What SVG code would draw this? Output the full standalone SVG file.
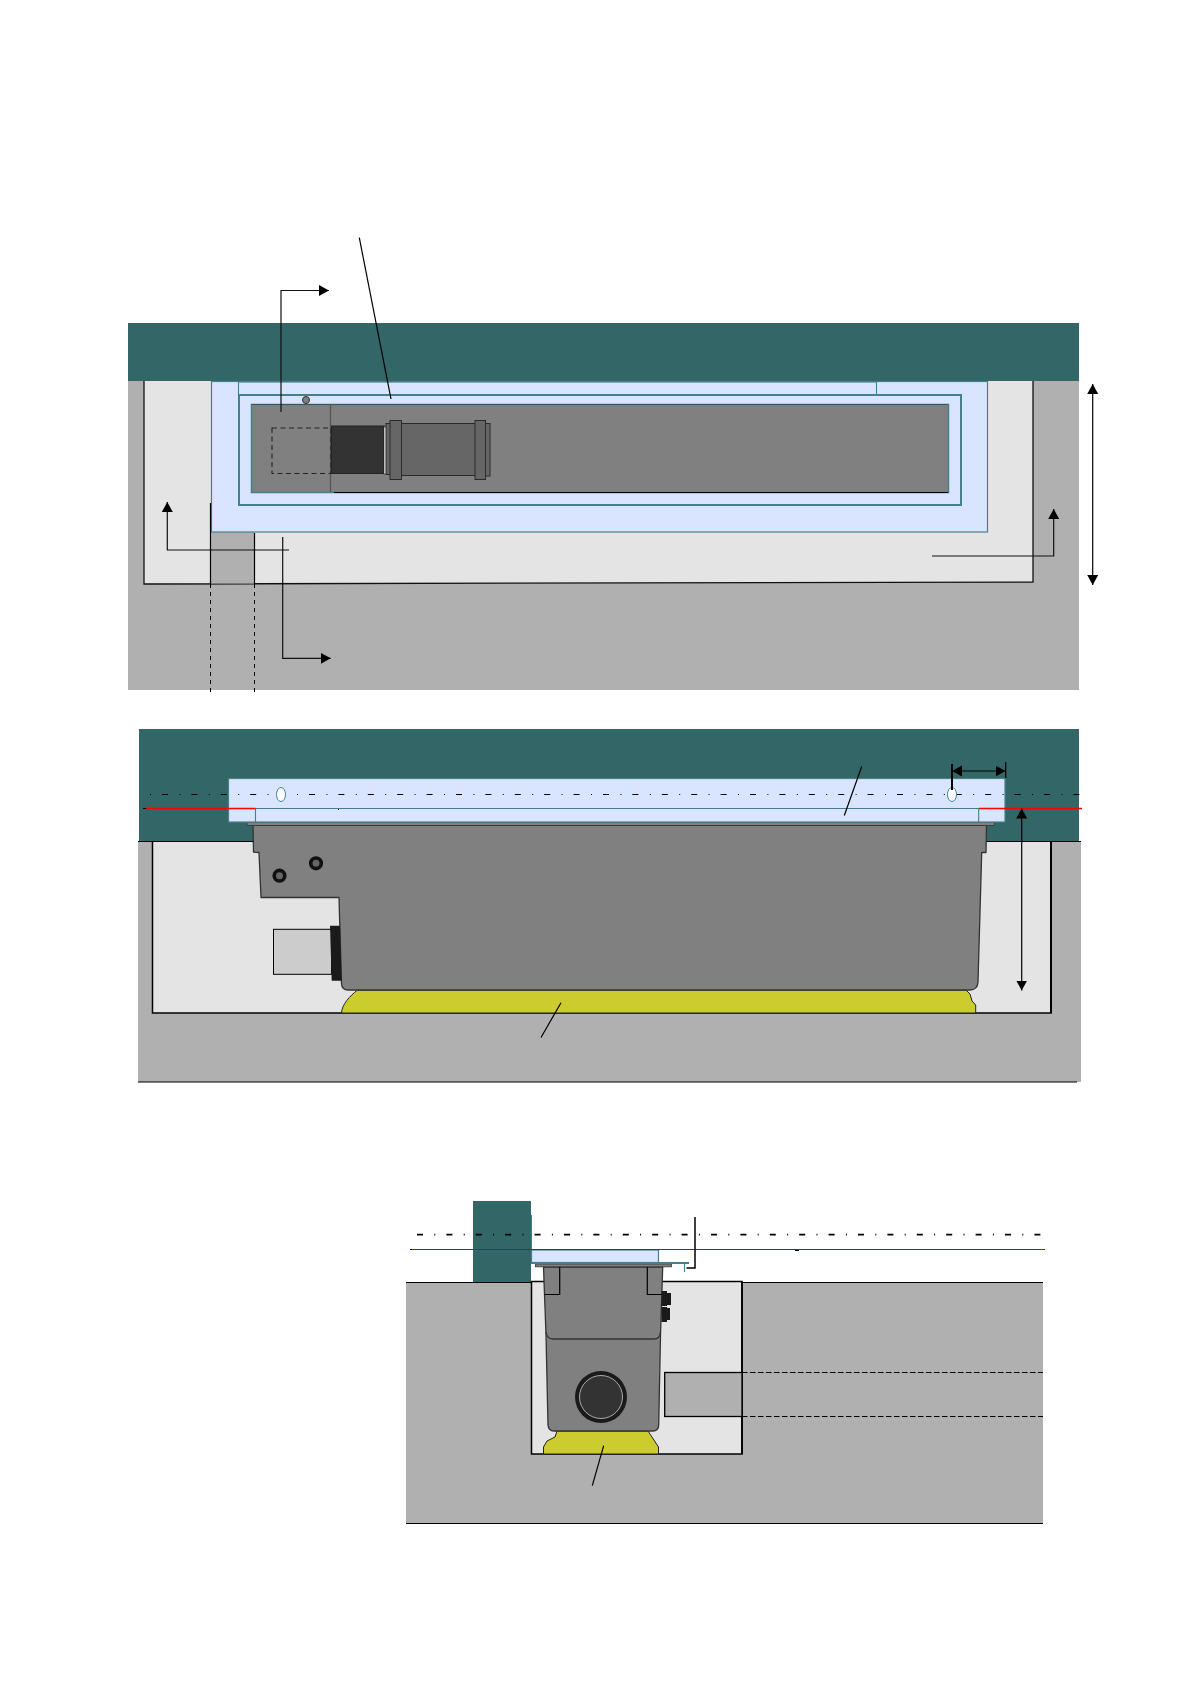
<svg xmlns="http://www.w3.org/2000/svg" width="1192" height="1685" viewBox="0 0 1192 1685">
<style>
.teal{fill:#336666}
.ground{fill:#b0b0b0}
.pit{fill:#e4e4e4;stroke:#000;stroke-width:1.5}
.plate{fill:#d9e4ff;stroke:#468088;stroke-width:1.2}
.tl{fill:none;stroke:#468088;stroke-width:1.1}
.body{fill:#808080;stroke:#333;stroke-width:1.3;stroke-linejoin:round}
.yellow{fill:#cccc2e;stroke:#222;stroke-width:1}
.ln{fill:none;stroke:#000;stroke-width:1.2}
.ln3{fill:none;stroke:#333;stroke-width:1.3}
.ln2{fill:none;stroke:#000;stroke-width:1.5}
.dash{fill:none;stroke:#222;stroke-width:1.1;stroke-dasharray:5 3.500}
.dd{fill:none;stroke:#000;stroke-width:1.1;stroke-dasharray:5.500 2.500}
.dv{fill:none;stroke:#000;stroke-width:1;stroke-dasharray:4 4}
.cl{fill:none;stroke:#000;stroke-width:1.1;stroke-dasharray:1 11 6 11.400}
.cl2{fill:none;stroke:#000;stroke-width:1.800;stroke-dasharray:6 11.300 1 11.100}
.red{fill:none;stroke:#f00;stroke-width:1.300}
.dk{fill:#666;stroke:#2a2a2a;stroke-width:1}
.bk{fill:#1a1a1a}
.bolt{fill:#666;stroke:#111;stroke-width:3.600}
.slot{fill:#fff;stroke:#468088;stroke-width:1}
.arrow{fill:none;stroke:#111;stroke-width:1.2;marker-end:url(#a)}
.arrow2{fill:none;stroke:#000;stroke-width:1.2;marker-start:url(#s);marker-end:url(#a)}
</style>
<defs>
<marker id="a" markerUnits="userSpaceOnUse" markerWidth="11" markerHeight="12" refX="10" refY="6" orient="auto"><path d="M0 0.500L10 6L0 11.500Z" fill="#000"/></marker>
<marker id="s" markerUnits="userSpaceOnUse" markerWidth="11" markerHeight="12" refX="0" refY="6" orient="auto"><path d="M10 0.500L0 6L10 11.500Z" fill="#000"/></marker>
</defs>
<rect width="1192" height="1685" fill="#fff"/>

<g id="plan-view">
<rect class="teal" x="128" y="323" width="951" height="58"/>
<rect class="ground" x="128" y="381" width="951" height="309"/>
<path d="M144 381V584L1033 582V381Z" fill="#e4e4e4"/>
<path d="M144 381V584L1033 582V381" fill="none" stroke="#111" stroke-width="1.300"/>
<rect class="ground" x="211" y="532" width="43.500" height="51.500"/>
<rect class="plate" x="211.500" y="381.500" width="776" height="150.500"/>
<rect class="tl" x="238.500" y="382" width="638" height="13"/>
<rect x="239" y="395" width="722" height="110" fill="#d9e4ff" stroke="#468088" stroke-width="2"/>
<rect x="251.500" y="404.500" width="697" height="88" fill="#808080" stroke="#468088" stroke-width="1.500"/>
<path d="M334 492.500H948" stroke="#000" stroke-width="1.200" fill="none"/>
<path d="M251 404.500H948" stroke="#444" stroke-width="0.700" fill="none"/>
<path d="M330.500 404V492" stroke="#555" stroke-width="1.300" fill="none"/>
<rect class="dash" x="272" y="428" width="59" height="45.500"/>
<circle cx="306" cy="400" r="3.500" fill="#808080" stroke="#333" stroke-width="1"/>
<g id="pipe-plan">
<rect x="331.500" y="426" width="52.500" height="47.500" fill="#333" stroke="#222" stroke-width="1"/>
<rect x="384" y="427" width="3" height="47" fill="#f0f0f0" stroke="#222" stroke-width="0.500"/>
<rect class="dk" x="386" y="423.500" width="5" height="51"/>
<rect class="dk" x="484" y="423.500" width="6" height="52.500"/>
<rect class="dk" x="400" y="423.500" width="76" height="52"/>
<rect class="dk" x="390" y="420.500" width="11.500" height="59"/>
<rect class="dk" x="475" y="420.500" width="10.500" height="59"/>
</g>
</g>

<g id="long-section">
<rect class="ground" x="138" y="841.500" width="943" height="240.500"/>
<rect class="teal" x="139" y="729" width="940" height="112.500"/>
<path d="M138 1082H1077" class="ln"/>
<path d="M152.500 841.500V1013H1051V841.500" fill="#e4e4e4" stroke="none"/>
<path d="M138 841.500H260M986 841.500H1081" class="ln"/>
<path d="M152.500 841.500V1013H1051V841.500" fill="none" stroke="#000" stroke-width="1.500"/>
<path d="M1051 841.500V1013" fill="none" stroke="#000" stroke-width="2"/>
<path class="yellow" d="M357.500 990C350 996 342 1004 341.500 1013H975.700V1005L972 1001L970 994L966 990Z"/>
<path class="body" d="M253 825L253.500 852L259 852.500L261 897.500H339L341.500 984Q342 990 348 990H970Q977.500 990 978 982L981.700 852.500H986L986.500 825Z"/>
<rect x="247" y="822" width="747.500" height="3.500" fill="#808080" stroke="#333" stroke-width="0.800"/>
<circle class="bolt" cx="279.500" cy="875.700" r="5.300"/>
<circle class="bolt" cx="316" cy="863.300" r="5.300"/>
<rect x="273.500" y="929.300" width="58" height="45" fill="#ccc" stroke="#000" stroke-width="1"/>
<path class="bk" d="M330 925.700L340 925.700L341.700 980.700H331.700Z"/>
<rect class="plate" x="228.500" y="778.500" width="776.500" height="43.500"/>
<path class="tl" d="M228.500 808.500H979M255.500 808.500V822M978.700 808.500V822"/>
<path class="cl" d="M150 794.500H1082"/>
<ellipse class="slot" cx="281" cy="794.500" rx="4.500" ry="7"/>
<ellipse class="slot" cx="952" cy="794.500" rx="4.500" ry="7"/>
</g>

<g id="cross-section">
<rect class="ground" x="406" y="1282.500" width="637" height="241"/>
<rect class="teal" x="473" y="1201" width="58" height="81.500"/>
<path d="M406 1282.500H531M743 1282.500H1043M406 1523.500H1043" class="ln"/>
<rect class="pit" x="531.500" y="1281.500" width="210.500" height="172.500"/>
<path d="M742 1281.500V1454" fill="none" stroke="#000" stroke-width="1.800"/>
<rect x="664.700" y="1372.500" width="77.300" height="44" fill="#b0b0b0" stroke="#000" stroke-width="1.300"/>
<path class="dd" d="M742 1372.500H1043M742 1416.500H1043"/>
<path class="yellow" d="M557 1431L555 1437L547 1441L543.500 1447V1454H658.500V1447L648 1431Z"/>
<path class="body" d="M543.500 1267L546 1335L548 1425Q548.500 1431 554 1431H653Q658.500 1431 658.700 1425L660.500 1335L662.700 1267Z"/>
<path class="ln3" d="M546 1332Q547 1339 553 1339H654Q660 1339 660.500 1332"/>
<path class="ln" d="M559.700 1266V1294.500H544.500M647.300 1266V1294.500H662"/>
<rect x="535.500" y="1264" width="136" height="2.800" fill="#808080" stroke="#333" stroke-width="0.800"/>
<circle cx="601" cy="1397" r="26" fill="#1a1a1a"/>
<circle cx="601" cy="1397" r="21.500" fill="#333" stroke="#ccc" stroke-width="0.800"/>
<path class="bk" d="M661.500 1291H667V1293H671V1305H667V1306H661.500ZM661.500 1307H667V1308H670V1320H667V1322H661.500Z"/>
<rect class="plate" x="531.500" y="1250" width="127" height="12.500"/>
<path d="M531.500 1215V1250" class="tl"/>
<path d="M531 1263H689" fill="none" stroke="#468088" stroke-width="2"/>
<path d="M684.500 1263V1272" class="tl"/>
<path class="cl2" d="M417 1234.700H1045"/>
</g>

<g id="connectors">
<path class="ln" d="M359.300 237.700L391 399"/>
<path class="arrow" d="M281 412V290.500H329"/>
<path class="arrow" d="M282.700 537V658.300H330.700"/>
<path class="arrow" d="M289 550H167.300V502"/>
<path class="arrow" d="M932 556H1053.700V509"/>
<path class="arrow2" d="M1092.700 384V585"/>
<path class="ln" d="M210.500 503V584M254.500 533V584"/>
<path class="dv" d="M210.500 584V694M254.500 584V694"/>
<path class="red" d="M146 808.500H255.500M979 808.500H1082"/>
<path class="ln" d="M143 808.500H146M338 809.500H339"/>
<path class="ln" d="M561 1002.700L541 1037.500"/>
<path class="ln" d="M861.700 766.500L844.300 815.500"/>
<path d="M952 764V790" fill="none" stroke="#000" stroke-width="2"/>
<path class="ln" d="M1005.700 762V778"/>
<path class="arrow2" d="M952 771H1005.500"/>
<path class="arrow2" d="M1021.700 808.500V990.500"/>
<path d="M412 1249.500H1045" fill="none" stroke="#c80000" stroke-width="1.100"/>
<path class="ln" d="M410 1249.500H412M795 1250.500H799"/>
<path class="ln" d="M603.700 1445.700L592.300 1485.700"/>
<path class="ln2" d="M695 1217V1268H686.500"/>
</g>
</svg>
